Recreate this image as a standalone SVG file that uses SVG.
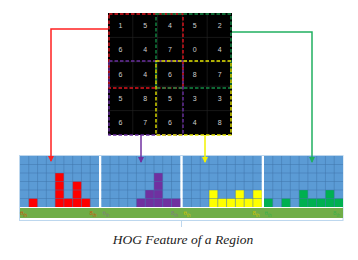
<svg xmlns="http://www.w3.org/2000/svg" width="358" height="260" viewBox="0 0 358 260">
<style>
.num{font-family:"Liberation Sans",Arial,sans-serif;font-size:7px;fill:#cfcfcf;text-anchor:middle;dominant-baseline:central}
.cellline{stroke:#262626;stroke-width:0.6}
.box{fill:none;stroke-width:1.4;stroke-dasharray:3.5 2}
.conn{fill:none;stroke-width:1.5}
.panel{fill:#5b9bd5}
.grid{stroke:#3f74a8;stroke-width:0.6;stroke-opacity:0.8}
.lbl{font-family:"Liberation Sans",Arial,sans-serif;font-size:6px}
.sub{font-size:4.5px}
.title{font-family:"Liberation Serif","Times New Roman",serif;font-style:italic;font-size:13.5px;fill:#222;text-anchor:middle}
</style>
<defs>
<marker id="ar" markerWidth="6" markerHeight="6" refX="5" refY="3" orient="auto" markerUnits="userSpaceOnUse"><path d="M0,0 L6,3 L0,6 z" fill="#ff2020"/></marker>
<marker id="ap" markerWidth="6" markerHeight="6" refX="5" refY="3" orient="auto" markerUnits="userSpaceOnUse"><path d="M0,0 L6,3 L0,6 z" fill="#7030a0"/></marker>
<marker id="ay" markerWidth="6" markerHeight="6" refX="5" refY="3" orient="auto" markerUnits="userSpaceOnUse"><path d="M0,0 L6,3 L0,6 z" fill="#f2f200"/></marker>
<marker id="ag" markerWidth="6" markerHeight="6" refX="5" refY="3" orient="auto" markerUnits="userSpaceOnUse"><path d="M0,0 L6,3 L0,6 z" fill="#20b060"/></marker>
</defs>

<g id="image-grid">
<rect x="108" y="13" width="124" height="122" fill="#000"/>
<g class="cellline">
<line x1="132.8" y1="13" x2="132.8" y2="135"/><line x1="157.6" y1="13" x2="157.6" y2="135"/><line x1="182.4" y1="13" x2="182.4" y2="135"/><line x1="207.2" y1="13" x2="207.2" y2="135"/>
<line x1="108" y1="37.4" x2="232" y2="37.4"/><line x1="108" y1="61.8" x2="232" y2="61.8"/><line x1="108" y1="86.2" x2="232" y2="86.2"/><line x1="108" y1="110.6" x2="232" y2="110.6"/>
</g>
<g>
<text class="num" x="120.4" y="25.2">1</text><text class="num" x="145.2" y="25.2">5</text><text class="num" x="170" y="25.2">4</text><text class="num" x="194.8" y="25.2">5</text><text class="num" x="219.6" y="25.2">2</text>
<text class="num" x="120.4" y="49.6">6</text><text class="num" x="145.2" y="49.6">4</text><text class="num" x="170" y="49.6">7</text><text class="num" x="194.8" y="49.6">0</text><text class="num" x="219.6" y="49.6">4</text>
<text class="num" x="120.4" y="74">6</text><text class="num" x="145.2" y="74">4</text><text class="num" x="170" y="74">6</text><text class="num" x="194.8" y="74">8</text><text class="num" x="219.6" y="74">7</text>
<text class="num" x="120.4" y="98.4">5</text><text class="num" x="145.2" y="98.4">8</text><text class="num" x="170" y="98.4">5</text><text class="num" x="194.8" y="98.4">3</text><text class="num" x="219.6" y="98.4">3</text>
<text class="num" x="120.4" y="122.8">6</text><text class="num" x="145.2" y="122.8">7</text><text class="num" x="170" y="122.8">6</text><text class="num" x="194.8" y="122.8">4</text><text class="num" x="219.6" y="122.8">8</text>
</g>
</g>
<g id="block-red"><rect class="box" x="109" y="14" width="74" height="74" stroke="#e0141e"/></g>
<g id="block-green"><rect class="box" x="156" y="14" width="75" height="74" stroke="#138a45"/></g>
<g id="block-purple"><rect class="box" x="109" y="61" width="74" height="74" stroke="#6a2fa0"/></g>
<g id="block-yellow"><rect class="box" x="156" y="61" width="75" height="74" stroke="#e6e600"/></g>

<g id="bracket">
<rect x="19.5" y="155.5" width="323.5" height="65" fill="none" stroke="#bdd7ee" stroke-width="1"/>
<line x1="181.5" y1="220.5" x2="181.5" y2="227" stroke="#bdd7ee" stroke-width="1"/>
<rect x="20" y="208" width="323" height="10" fill="#70ad47"/>
</g>

<g id="hist-red">
<rect class="panel" x="20" y="156" width="79" height="51"/>
<g fill="#ff0000">
<rect x="28.78" y="198.5" width="8.78" height="8.5"/>
<rect x="55.11" y="173" width="8.78" height="34"/>
<rect x="63.89" y="198.5" width="8.78" height="8.5"/>
<rect x="72.67" y="181.5" width="8.78" height="25.5"/>
<rect x="81.44" y="198.5" width="8.78" height="8.5"/>
</g>
<g class="grid">
<line x1="28.78" y1="156" x2="28.78" y2="207"/><line x1="37.56" y1="156" x2="37.56" y2="207"/><line x1="46.33" y1="156" x2="46.33" y2="207"/><line x1="55.11" y1="156" x2="55.11" y2="207"/><line x1="63.89" y1="156" x2="63.89" y2="207"/><line x1="72.67" y1="156" x2="72.67" y2="207"/><line x1="81.44" y1="156" x2="81.44" y2="207"/><line x1="90.22" y1="156" x2="90.22" y2="207"/>
<line x1="20" y1="164.5" x2="99" y2="164.5"/><line x1="20" y1="173" x2="99" y2="173"/><line x1="20" y1="181.5" x2="99" y2="181.5"/><line x1="20" y1="190" x2="99" y2="190"/><line x1="20" y1="198.5" x2="99" y2="198.5"/>
</g>
<text class="lbl" x="20" y="215" fill="#c55a11">θ<tspan class="sub" dy="1.5">th</tspan></text>
<text class="lbl" x="89.5" y="215" fill="#c55a11">8<tspan class="sub" dy="1.5">th</tspan></text>
</g>

<g id="hist-purple">
<rect class="panel" x="101.3" y="156" width="79" height="51"/>
<g fill="#7030a0">
<rect x="136.41" y="198.5" width="8.78" height="8.5"/>
<rect x="145.19" y="190" width="8.78" height="17"/>
<rect x="153.97" y="173" width="8.78" height="34"/>
<rect x="162.74" y="198.5" width="8.78" height="8.5"/>
<rect x="171.52" y="198.5" width="8.78" height="8.5"/>
</g>
<g class="grid">
<line x1="110.08" y1="156" x2="110.08" y2="207"/><line x1="118.86" y1="156" x2="118.86" y2="207"/><line x1="127.63" y1="156" x2="127.63" y2="207"/><line x1="136.41" y1="156" x2="136.41" y2="207"/><line x1="145.19" y1="156" x2="145.19" y2="207"/><line x1="153.97" y1="156" x2="153.97" y2="207"/><line x1="162.74" y1="156" x2="162.74" y2="207"/><line x1="171.52" y1="156" x2="171.52" y2="207"/>
<line x1="101.3" y1="164.5" x2="180.3" y2="164.5"/><line x1="101.3" y1="173" x2="180.3" y2="173"/><line x1="101.3" y1="181.5" x2="180.3" y2="181.5"/><line x1="101.3" y1="190" x2="180.3" y2="190"/><line x1="101.3" y1="198.5" x2="180.3" y2="198.5"/>
</g>
<text class="lbl" x="102.5" y="215" fill="#7f7f7f">θ<tspan class="sub" dy="1.5">th</tspan></text>
<text class="lbl" x="171" y="215" fill="#7f7f7f">8<tspan class="sub" dy="1.5">th</tspan></text>
</g>

<g id="hist-yellow">
<rect class="panel" x="182.7" y="156" width="79" height="51"/>
<g fill="#ffff00">
<rect x="209.03" y="190" width="8.78" height="17"/>
<rect x="217.81" y="198.5" width="8.78" height="8.5"/>
<rect x="226.59" y="198.5" width="8.78" height="8.5"/>
<rect x="235.37" y="190" width="8.78" height="17"/>
<rect x="244.14" y="198.5" width="8.78" height="8.5"/>
<rect x="252.92" y="190" width="8.78" height="17"/>
</g>
<g class="grid">
<line x1="191.48" y1="156" x2="191.48" y2="207"/><line x1="200.26" y1="156" x2="200.26" y2="207"/><line x1="209.03" y1="156" x2="209.03" y2="207"/><line x1="217.81" y1="156" x2="217.81" y2="207"/><line x1="226.59" y1="156" x2="226.59" y2="207"/><line x1="235.37" y1="156" x2="235.37" y2="207"/><line x1="244.14" y1="156" x2="244.14" y2="207"/><line x1="252.92" y1="156" x2="252.92" y2="207"/>
<line x1="182.7" y1="164.5" x2="261.7" y2="164.5"/><line x1="182.7" y1="173" x2="261.7" y2="173"/><line x1="182.7" y1="181.5" x2="261.7" y2="181.5"/><line x1="182.7" y1="190" x2="261.7" y2="190"/><line x1="182.7" y1="198.5" x2="261.7" y2="198.5"/>
</g>
<text class="lbl" x="183.5" y="215" fill="#c9c200">θ<tspan class="sub" dy="1.5">th</tspan></text>
<text class="lbl" x="252.5" y="215" fill="#c9c200">8<tspan class="sub" dy="1.5">th</tspan></text>
</g>

<g id="hist-green">
<rect class="panel" x="264" y="156" width="79" height="51"/>
<g fill="#00b050">
<rect x="264" y="198.5" width="8.78" height="8.5"/>
<rect x="281.56" y="198.5" width="8.78" height="8.5"/>
<rect x="299.11" y="190" width="8.78" height="17"/>
<rect x="307.89" y="198.5" width="8.78" height="8.5"/>
<rect x="316.67" y="198.5" width="8.78" height="8.5"/>
<rect x="325.44" y="190" width="8.78" height="17"/>
<rect x="334.22" y="198.5" width="8.78" height="8.5"/>
</g>
<g class="grid">
<line x1="272.78" y1="156" x2="272.78" y2="207"/><line x1="281.56" y1="156" x2="281.56" y2="207"/><line x1="290.33" y1="156" x2="290.33" y2="207"/><line x1="299.11" y1="156" x2="299.11" y2="207"/><line x1="307.89" y1="156" x2="307.89" y2="207"/><line x1="316.67" y1="156" x2="316.67" y2="207"/><line x1="325.44" y1="156" x2="325.44" y2="207"/><line x1="334.22" y1="156" x2="334.22" y2="207"/>
<line x1="264" y1="164.5" x2="343" y2="164.5"/><line x1="264" y1="173" x2="343" y2="173"/><line x1="264" y1="181.5" x2="343" y2="181.5"/><line x1="264" y1="190" x2="343" y2="190"/><line x1="264" y1="198.5" x2="343" y2="198.5"/>
</g>
<text class="lbl" x="264.5" y="215" fill="#3cb04c">θ<tspan class="sub" dy="1.5">th</tspan></text>
<text class="lbl" x="333" y="215" fill="#3cb04c">8<tspan class="sub" dy="1.5">th</tspan></text>
</g>

<g id="connectors">
<path class="conn" d="M108,29 H51 V161" stroke="#ff2020" marker-end="url(#ar)"/>
<path class="conn" d="M141,135 V162" stroke="#7030a0" marker-end="url(#ap)"/>
<path class="conn" d="M205,135 V162" stroke="#f2f200" marker-end="url(#ay)"/>
<path class="conn" d="M232,32 H312 V162" stroke="#20b060" marker-end="url(#ag)"/>
</g>

<text class="title" x="183" y="244">HOG Feature of a Region</text>
</svg>
